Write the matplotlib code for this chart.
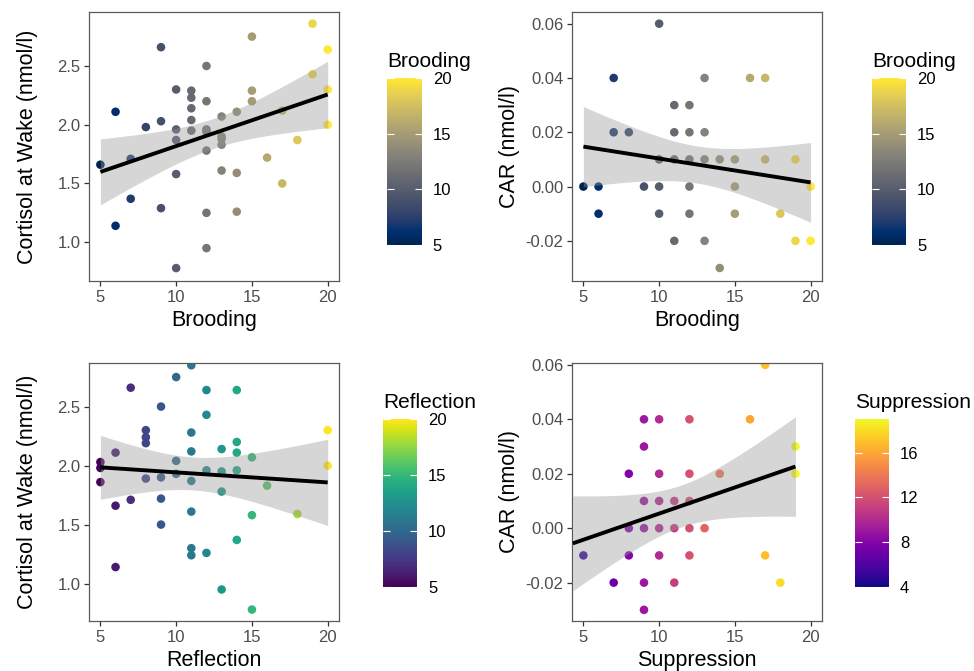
import numpy as np
import matplotlib.pyplot as plt
import matplotlib.colors as mcolors

plt.rcParams['font.family'] = ['Liberation Sans', 'DejaVu Sans']

# top-left: Brooding vs cortisol at wake
brood_a = [19, 15, 9, 20, 12, 19, 10, 11, 11, 15, 20, 12, 15, 6, 11, 14, 17, 13, 8, 9,
           11, 20, 10, 11, 12, 12, 13, 13, 13, 10, 12, 7, 18, 5, 16, 10, 13, 14, 17, 7,
           9, 6, 12, 14, 12, 10]
cort_a = [2.86, 2.75, 2.66, 2.64, 2.50, 2.43, 2.30, 2.29, 2.23, 2.29, 2.30, 2.20, 2.20, 2.11,
          2.14, 2.11, 2.12, 2.07, 1.98, 2.03, 2.04, 2.00, 1.96, 1.95, 1.96, 1.94, 1.90, 1.88,
          1.83, 1.87, 1.78, 1.71, 1.87, 1.66, 1.72, 1.58, 1.61, 1.59, 1.50, 1.37, 1.29, 1.14,
          1.25, 1.26, 0.95, 0.78]

# top-right: Brooding vs CAR
brood_b = [10, 7, 13, 16, 17, 11, 12, 7, 8, 11, 12, 13,
           10, 11, 12, 13, 14, 15, 17, 19,
           5, 6, 9, 10, 12, 15, 20,
           6, 10, 12, 15, 18,
           11, 13, 19, 20,
           14]
car_b = [0.06, 0.04, 0.04, 0.04, 0.04, 0.03, 0.03, 0.02, 0.02, 0.02, 0.02, 0.02,
         0.01, 0.01, 0.01, 0.01, 0.01, 0.01, 0.01, 0.01,
         0.00, 0.00, 0.00, 0.00, 0.00, 0.00, 0.00,
         -0.01, -0.01, -0.01, -0.01, -0.01,
         -0.02, -0.02, -0.02, -0.02,
         -0.03]

# bottom-left: Reflection vs cortisol at wake
refl = [11, 10, 7, 12, 14, 9, 12, 8, 8, 8, 11, 20, 14, 11, 13, 14, 6, 15, 5, 5,
        5, 10, 10, 20, 12, 13, 14, 8, 9, 11, 16, 13, 7, 9, 6, 11, 15, 18, 9, 14,
        11, 11, 12, 6, 13, 15]
cort_c = [2.85, 2.75, 2.66, 2.64, 2.64, 2.50, 2.43, 2.30, 2.24, 2.19, 2.28, 2.30, 2.20, 2.12,
          2.14, 2.11, 2.11, 2.07, 2.03, 1.98, 1.86, 2.04, 1.93, 2.00, 1.96, 1.95, 1.96, 1.89,
          1.90, 1.87, 1.83, 1.78, 1.71, 1.72, 1.66, 1.61, 1.58, 1.59, 1.50, 1.37, 1.30, 1.24,
          1.26, 1.14, 0.95, 0.78]

# bottom-right: Suppression vs CAR
supp = [17,
        9, 10, 12, 16,
        9, 19,
        8, 10, 12, 14, 19,
        9, 10, 11, 12,
        8, 9, 10, 11, 12, 13,
        5, 8, 10, 12, 17,
        7, 9, 11, 18,
        9]
car_d = [0.06,
         0.04, 0.04, 0.04, 0.04,
         0.03, 0.03,
         0.02, 0.02, 0.02, 0.02, 0.02,
         0.01, 0.01, 0.01, 0.01,
         0.00, 0.00, 0.00, 0.00, 0.00, 0.00,
         -0.01, -0.01, -0.01, -0.01, -0.01,
         -0.02, -0.02, -0.02, -0.02,
         -0.03]

X_TICKS = [5, 10, 15, 20]
T95 = {44: 2.015, 35: 2.030, 30: 2.042}


def lm_band(x, y, x_from, x_to):
    x = np.asarray(x, float)
    y = np.asarray(y, float)
    n = len(x)
    b, a = np.polyfit(x, y, 1)
    resid = y - (a + b * x)
    s = np.sqrt(np.sum(resid ** 2) / (n - 2))
    sxx = np.sum((x - x.mean()) ** 2)
    xs = np.linspace(x_from, x_to, 100)
    fit = a + b * xs
    se = s * np.sqrt(1 / n + (xs - x.mean()) ** 2 / sxx)
    t = T95.get(n - 2, 2.02)
    return xs, fit, fit - t * se, fit + t * se


def panel(rect, x, y, cmap, vmin, vmax, xlabel, ylabel, ylim, yticks, yfmt,
          ylabelpad=6, fit_from=None):
    ax = fig.add_axes(rect)
    norm = mcolors.Normalize(vmin, vmax)
    ax.scatter(x, y, c=x, cmap=cmap, norm=norm, s=38, linewidths=0, zorder=2)
    lo = min(x) if fit_from is None else fit_from
    xs, fit, low, high = lm_band(x, y, lo, max(x))
    ax.fill_between(xs, low, high, color='#999999', alpha=0.4, linewidth=0, zorder=3)
    ax.plot(xs, fit, color='black', lw=2.8, zorder=4, solid_capstyle='butt')
    ax.set_xlim(4.25, 20.75)
    ax.set_ylim(*ylim)
    ax.set_xticks(X_TICKS)
    ax.set_yticks(yticks)
    ax.set_yticklabels([yfmt.format(v) for v in yticks])
    ax.set_xlabel(xlabel, fontsize=15.5, labelpad=4)
    ax.set_ylabel(ylabel, fontsize=15.5, labelpad=ylabelpad)
    ax.tick_params(length=3.8, width=0.9, color='#333333', labelsize=12,
                   labelcolor='#4D4D4D', pad=2.5)
    for sp in ax.spines.values():
        sp.set_color('#5a5a5a')
        sp.set_linewidth(0.9)
    return norm


def colourbar(rect, cmap, norm, ticks, title):
    cax = fig.add_axes(rect)
    cb = fig.colorbar(plt.cm.ScalarMappable(norm=norm, cmap=cmap), cax=cax)
    cb.outline.set_visible(False)
    cb.set_ticks(ticks)
    cax.tick_params(direction='in', length=5, width=0.8, color='white',
                    left=True, right=True, labelsize=12, pad=8)
    fig.text(rect[0], rect[1] + rect[3] + 0.016, title, fontsize=15, ha='left', va='baseline')


fig = plt.figure(figsize=(9.74, 6.71), dpi=100)

n1 = panel([0.0914, 0.5812, 0.2567, 0.4005], brood_a, cort_a, 'cividis', 5, 20,
           'Brooding', 'Cortisol at Wake (nmol/l)', (0.67, 2.957), [1.0, 1.5, 2.0, 2.5], '{:.1f}',
           ylabelpad=14)
colourbar([0.3973, 0.6349, 0.0356, 0.2489], 'cividis', n1, [5, 10, 15, 20], 'Brooding')

n2 = panel([0.5873, 0.5812, 0.2566, 0.4005], brood_b, car_b, 'cividis', 5, 20,
           'Brooding', 'CAR (nmol/l)', (-0.0348, 0.0642), [-0.02, 0.0, 0.02, 0.04, 0.06], '{:.2f}',
           ylabelpad=4)
colourbar([0.8953, 0.6349, 0.0349, 0.2489], 'cividis', n2, [5, 10, 15, 20], 'Brooding')

n3 = panel([0.0914, 0.0745, 0.2567, 0.3850], refl, cort_c, 'viridis', 5, 20,
           'Reflection', 'Cortisol at Wake (nmol/l)', (0.683, 2.872), [1.0, 1.5, 2.0, 2.5], '{:.1f}',
           ylabelpad=14)
colourbar([0.3932, 0.1252, 0.0349, 0.2504], 'viridis', n3, [5, 10, 15, 20], 'Reflection')

n4 = panel([0.5873, 0.0745, 0.2566, 0.3850], supp, car_d, 'plasma', 4, 19,
           'Suppression', 'CAR (nmol/l)', (-0.0341, 0.0608), [-0.02, 0.0, 0.02, 0.04, 0.06], '{:.2f}',
           ylabelpad=4, fit_from=4.3)
colourbar([0.8778, 0.1252, 0.0349, 0.2504], 'plasma', n4, [4, 8, 12, 16], 'Suppression')

fig.savefig('out.png', dpi=100, facecolor='white')
